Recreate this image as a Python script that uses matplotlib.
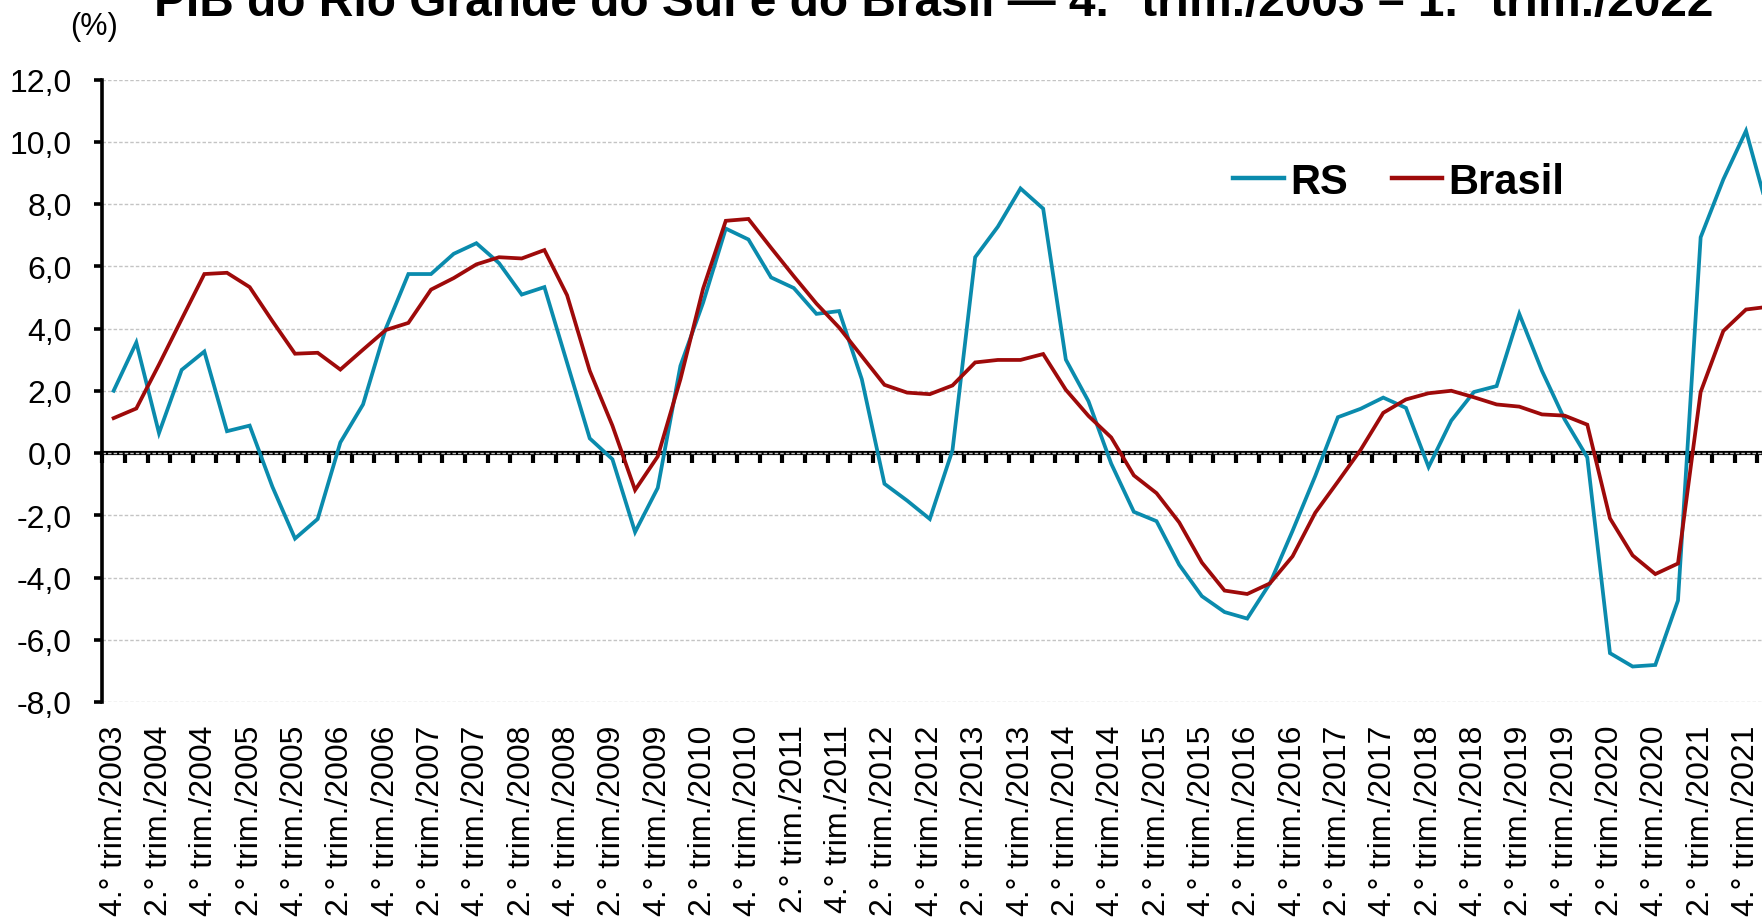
import matplotlib
matplotlib.use('Agg')
import matplotlib.pyplot as plt
from matplotlib.ticker import FuncFormatter, FixedLocator
import numpy as np

plt.rcParams['font.family'] = ['Liberation Sans', 'DejaVu Sans']

# trimestres: 4.° trim./2003 ... 1.° trim./2022
first_year, first_q = 2003, 4
n_points = 74
quarters = []
y, q = first_year, first_q
for _ in range(n_points):
    quarters.append(f'{q}.° trim./{y}')
    q += 1
    if q > 4:
        q = 1
        y += 1

rs = [2.0, 3.55, 0.64, 2.67, 3.26, 0.70, 0.88, -1.08, -2.75, -2.12,
      0.34, 1.56, 3.99, 5.75, 5.75, 6.40, 6.74, 6.10, 5.09, 5.33,
      2.9, 0.47, -0.2, -2.54, -1.12, 2.80, 4.83, 7.21, 6.86, 5.64,
      5.30, 4.47, 4.56, 2.37, -0.99, -1.53, -2.12, 0.09, 6.29, 7.27,
      8.50, 7.85, 3.0, 1.66, -0.34, -1.89, -2.19, -3.59, -4.60, -5.11,
      -5.32, -4.19, -2.50, -0.74, 1.15, 1.42, 1.78, 1.45, -0.45, 1.04,
      1.96, 2.15, 4.47, 2.64, 1.08, -0.14, -6.43, -6.86, -6.81, -4.74,
      6.93, 8.79, 10.35, 7.7]

brasil = [1.12, 1.43, 2.84, 4.3, 5.75, 5.79, 5.33, 4.24, 3.19, 3.22,
          2.68, 3.32, 3.95, 4.18, 5.25, 5.62, 6.06, 6.29, 6.25, 6.52,
          5.07, 2.64, 0.88, -1.19, -0.11, 2.37, 5.28, 7.46, 7.52, 6.59,
          5.68, 4.80, 4.03, 3.11, 2.19, 1.94, 1.89, 2.17, 2.91, 2.99,
          2.99, 3.18, 2.03, 1.19, 0.50, -0.72, -1.29, -2.23, -3.52, -4.42,
          -4.53, -4.19, -3.32, -1.92, -0.92, 0.1, 1.29, 1.72, 1.92, 2.0,
          1.79, 1.56, 1.49, 1.24, 1.20, 0.91, -2.10, -3.29, -3.89, -3.55,
          1.96, 3.92, 4.61, 4.7]

y_ticks = [-8, -6, -4, -2, 0, 2, 4, 6, 8, 10, 12]

W, H = 1762, 920
fig = plt.figure(figsize=(W / 100, H / 100), dpi=100)
# eixo deliberadamente passa da borda direita (imagem recortada)
left, right = 102.3 / W, 1780 / W
bottom, top = 1 - 703 / H, 1 - 80.5 / H
ax = fig.add_axes([left, bottom, right - left, top - bottom])

x = np.arange(n_points)
ax.plot(x, rs, color='#0A8BAD', lw=2.7, label='RS', solid_joinstyle='miter')
ax.plot(x, brasil, color='#9E0A0A', lw=2.7, label='Brasil', solid_joinstyle='miter')

ax.set_xlim(-0.5, n_points - 0.5)
ax.set_ylim(-8, 12)

ax.set_yticks(y_ticks)
ax.yaxis.set_major_formatter(FuncFormatter(lambda v, p: f'{v:.1f}'.replace('.', ',')))
ax.grid(axis='y', color='#c4c4c4', linestyle=(0, (2.5, 1.5)), linewidth=1)
ax.set_axisbelow(True)

ax.set_xticks(x[::2])
ax.set_xticklabels(quarters[::2], rotation=90, fontsize=23)
ax.tick_params(axis='x', length=0, pad=16)
ax.tick_params(axis='y', labelsize=23, length=6, width=2.6, direction='out', pad=16)

for s in ['top', 'right', 'bottom']:
    ax.spines[s].set_visible(False)
ax.spines['left'].set_linewidth(2.6)

# linha do zero com marcas entre trimestres
zero_pos = (0 - (-8)) / (12 - (-8))
sec = ax.secondary_xaxis(zero_pos)
sec.spines['bottom'].set_linewidth(3)
sec.xaxis.set_major_locator(FixedLocator(np.arange(-0.5, n_points, 1.0)))
sec.tick_params(axis='x', direction='out', length=7, width=3, labelbottom=False, labeltop=False)

fig.text(94 / W, 1 - 27 / H, '(%)', fontsize=22, ha='center', va='center')
fig.text(934 / W, 1 - 16 / H,
         'PIB do Rio Grande do Sul e do Brasil — 4.° trim./2003 – 1.° trim./2022',
         fontsize=34.5, fontweight='bold', ha='center', va='baseline')

leg = ax.legend(loc='center left', bbox_to_anchor=(1233 / W, 1 - 183 / H),
                bbox_transform=fig.transFigure, ncol=2, frameon=False,
                borderpad=0, borderaxespad=0, handlelength=1.22,
                handletextpad=0.15, columnspacing=1.05,
                prop={'size': 30, 'weight': 'bold'})
for line in leg.get_lines():
    line.set_linewidth(3.2)

fig.savefig('out.png', dpi=100, facecolor='white')
